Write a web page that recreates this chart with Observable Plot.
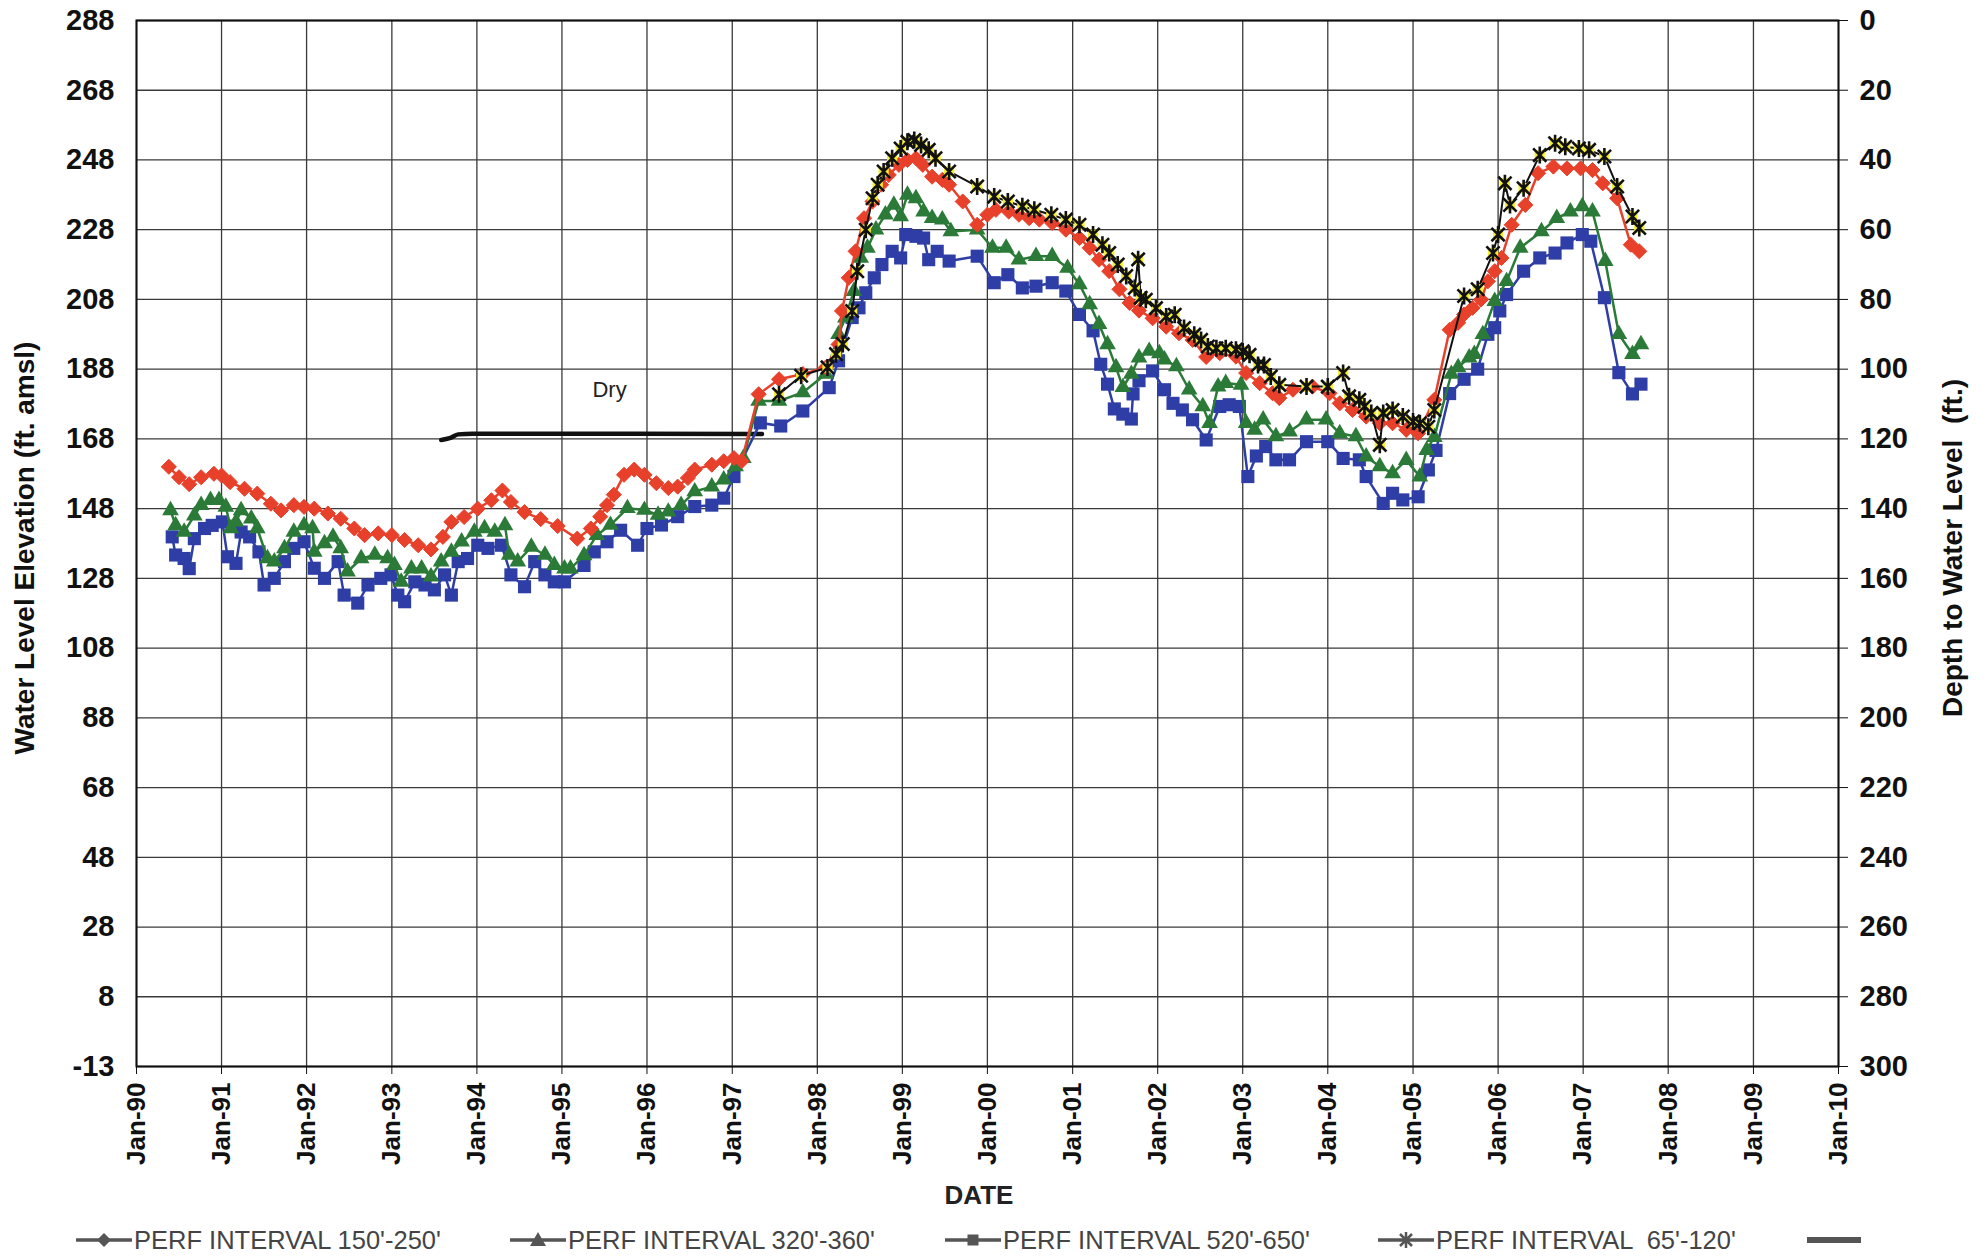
<!DOCTYPE html>
<html><head><meta charset="utf-8">
<script src="https://cdn.jsdelivr.net/npm/d3@7"></script>
<script src="https://cdn.jsdelivr.net/npm/@observablehq/plot@0.6"></script>
<style>
html,body{margin:0;padding:0;background:#fff;}
#wrap{position:relative;width:1988px;height:1256px;font-family:"Liberation Sans",Arial,sans-serif;overflow:hidden;}
#chart svg{display:block;}
#date{position:absolute;left:979px;top:1180px;transform:translateX(-50%);font-size:26px;font-weight:bold;color:#222;}
.ytitle{position:absolute;transform:translate(-50%,-50%) rotate(-90deg);white-space:pre;font-size:28px;font-weight:bold;color:#111;}
.leg{position:absolute;top:1225px;height:30px;display:flex;align-items:center;font-size:25.5px;color:#444;white-space:pre;}
.leg svg{display:block;margin-right:2px;}
</style></head><body>
<div id="wrap"><div id="chart"></div><div id="date">DATE</div>
<div class="ytitle" id="ltitle" style="left:25px;top:548px;"></div>
<div class="ytitle" id="rtitle" style="left:1953px;top:548px;"></div>
</div>
<script>
// ---------- data: [decimal year, water level elevation (ft amsl)] ----------
const perf150_250 = [
[1990.38,160],[1990.5,157],[1990.62,155],[1990.76,157],[1990.91,158],[1991.0,157.5],[1991.1,155.6],[1991.27,153.7],
[1991.42,152.3],[1991.58,149.4],[1991.7,147.5],[1991.85,149],[1991.97,148.5],[1992.09,148],[1992.25,146.6],[1992.4,145.1],
[1992.56,142.3],[1992.68,140.4],[1992.84,140.9],[1993.0,140.4],[1993.15,139],[1993.31,137.5],[1993.46,136.3],[1993.6,139.9],
[1993.7,144.2],[1993.85,145.6],[1994.01,148],[1994.17,150.4],[1994.3,153.2],[1994.4,149.9],[1994.56,147],[1994.75,145],
[1994.95,143],[1995.18,139.4],[1995.34,142.3],[1995.45,145.7],[1995.53,149],[1995.61,152],[1995.73,157.7],[1995.85,159.2],
[1995.97,157.7],[1996.11,155.3],[1996.25,153.9],[1996.36,154.3],[1996.48,156.8],[1996.56,159.2],[1996.76,160.6],[1996.9,161.6],
[1997.02,162.5],[1997.11,161.6],[1997.31,180.8],[1997.55,185.1],[1997.83,186.6],[1998.1,188.5],[1998.25,195.1],[1998.29,204.7],
[1998.37,214.2],[1998.45,221.8],[1998.55,231.3],[1998.65,236.1],[1998.75,240.9],[1998.84,243.7],[1998.96,246.6],[1999.06,248],
[1999.16,248.5],[1999.24,246.6],[1999.35,243.2],[1999.47,242.3],[1999.55,240.9],[1999.71,236.1],[1999.88,229.4],[2000.0,232.3],
[2000.1,233.7],[2000.25,233.2],[2000.37,232.3],[2000.49,231.3],[2000.61,230.9],[2000.76,229.9],[2000.92,228],[2001.08,225.6],
[2001.2,222.8],[2001.31,219.4],[2001.43,216.1],[2001.55,210.9],[2001.67,207],[2001.78,204.8],[2001.94,202.6],[2002.1,200.2],
[2002.25,198.3],[2002.41,196.4],[2002.57,191.5],[2002.73,192.6],[2002.92,191.6],[2003.04,186.9],[2003.2,184],[2003.35,181.1],
[2003.43,179.7],[2003.59,182.1],[2003.82,183],[2004.02,181.1],[2004.14,178.2],[2004.29,176.3],[2004.45,174.4],[2004.61,172.5],
[2004.76,172.5],[2004.92,170.6],[2005.06,169.6],[2005.25,179.2],[2005.43,199.3],[2005.53,201.3],[2005.6,203.7],[2005.7,205.6],
[2005.8,208],[2005.88,213.2],[2005.96,216.1],[2006.04,219.9],[2006.16,229.4],[2006.32,235.1],[2006.47,244.2],[2006.65,246.1],
[2006.81,245.6],[2006.97,245.6],[2007.11,245.1],[2007.23,241.3],[2007.4,237],[2007.56,223.7],[2007.66,221.8]
];
const perf320_360 = [
[1990.4,147.5],[1990.46,143.2],[1990.56,141.3],[1990.68,146],[1990.76,149],[1990.87,150.4],[1990.97,150.4],[1991.05,148.5],
[1991.11,142.3],[1991.17,144.2],[1991.23,147.5],[1991.35,145.1],[1991.42,142.3],[1991.54,133.7],[1991.62,132.8],[1991.74,136.6],
[1991.85,141.3],[1991.97,143.2],[1992.07,142.3],[1992.09,135.6],[1992.21,138],[1992.31,139.9],[1992.4,136.6],[1992.48,129.9],
[1992.64,133.7],[1992.8,134.7],[1992.95,133.7],[1993.03,131.8],[1993.11,127],[1993.23,130.8],[1993.35,130.8],[1993.46,128.5],
[1993.58,132.8],[1993.7,135.6],[1993.82,138.5],[1993.97,141.3],[1994.09,142.3],[1994.21,141.3],[1994.33,143.2],[1994.38,134.7],
[1994.48,132.8],[1994.64,137],[1994.8,134.7],[1994.91,131.8],[1995.03,130.8],[1995.1,130.8],[1995.26,134.6],[1995.41,140.4],
[1995.57,143.3],[1995.77,148.1],[1995.97,147.6],[1996.13,146.2],[1996.25,147.1],[1996.4,149],[1996.56,152.9],[1996.76,154.3],
[1996.9,156.3],[1997.04,160.1],[1997.13,162.5],[1997.31,178.9],[1997.55,178.9],[1997.83,181.3],[1998.1,186.6],[1998.25,198],
[1998.33,202.8],[1998.43,210.4],[1998.51,219.9],[1998.59,222.8],[1998.69,228],[1998.8,232.3],[1998.9,235.1],[1998.98,231.8],
[1999.06,238],[1999.16,237],[1999.25,233.2],[1999.35,231.3],[1999.47,230.9],[1999.57,227.5],[1999.88,228],[2000.06,222.8],
[2000.22,222.8],[2000.37,219.4],[2000.57,220.4],[2000.76,220.4],[2000.94,217],[2001.08,212.3],[2001.2,206.6],[2001.31,200.9],
[2001.41,195.1],[2001.51,188.5],[2001.59,182.8],[2001.69,186.6],[2001.78,191.3],[2001.9,193.2],[2002.02,192.5],[2002.08,190.7],
[2002.22,188.8],[2002.37,182.1],[2002.53,177.3],[2002.61,172.5],[2002.71,183],[2002.8,184],[2002.98,183.5],[2003.04,172.5],
[2003.14,170.6],[2003.24,173.5],[2003.39,168.7],[2003.55,170.1],[2003.75,173.5],[2003.98,173.5],[2004.14,169.6],[2004.33,168.7],
[2004.45,162.9],[2004.61,160.1],[2004.76,158.1],[2004.92,161.9],[2005.08,157.2],[2005.16,164.8],[2005.25,168.5],[2005.45,186.6],
[2005.53,188.5],[2005.66,191.3],[2005.72,192.3],[2005.82,198],[2005.96,207.5],[2006.1,213.2],[2006.26,222.8],[2006.51,227.5],
[2006.69,231.3],[2006.85,233.2],[2006.99,234.7],[2007.11,233.2],[2007.26,219],[2007.42,198],[2007.58,192.3],[2007.68,195.1]
];
const perf520_650 = [
[1990.42,139.9],[1990.46,134.7],[1990.56,133.7],[1990.62,130.8],[1990.68,139.4],[1990.8,142.3],[1990.89,143.2],[1991.01,144.2],
[1991.07,134.2],[1991.17,132.3],[1991.23,141.3],[1991.33,139.9],[1991.44,135.6],[1991.5,126.1],[1991.62,128],[1991.74,132.8],
[1991.85,136.6],[1991.97,138.5],[1992.09,130.9],[1992.21,128],[1992.37,132.8],[1992.44,123.2],[1992.6,120.9],[1992.72,126.1],
[1992.87,128],[1992.99,129],[1993.07,123.2],[1993.15,121.3],[1993.27,127],[1993.39,126.1],[1993.5,124.7],[1993.62,129],
[1993.7,123.2],[1993.78,132.8],[1993.89,133.7],[1994.01,137.5],[1994.13,136.6],[1994.29,137.5],[1994.4,129],[1994.56,125.6],
[1994.68,132.8],[1994.8,129],[1994.91,127],[1995.03,127],[1995.26,131.7],[1995.38,135.6],[1995.53,138.5],[1995.69,141.8],
[1995.89,137.5],[1996.0,142.3],[1996.17,143.3],[1996.36,145.7],[1996.56,148.6],[1996.76,149],[1996.9,151],[1997.02,157.2],
[1997.33,172.6],[1997.57,171.7],[1997.83,176],[1998.14,182.7],[1998.25,190.4],[1998.41,202.8],[1998.49,205.6],[1998.57,209.9],
[1998.67,214.2],[1998.76,218],[1998.88,221.8],[1998.98,219.9],[1999.04,226.6],[1999.16,226.1],[1999.25,225.6],[1999.31,219.4],
[1999.41,221.8],[1999.55,219],[1999.88,220.4],[2000.08,212.8],[2000.24,215.1],[2000.41,211.3],[2000.57,211.8],[2000.76,212.8],
[2000.92,210.4],[2001.08,203.7],[2001.24,199],[2001.33,189.4],[2001.41,183.7],[2001.49,176.6],[2001.59,175.1],[2001.69,173.7],
[2001.71,180.9],[2001.78,184.7],[2001.94,187.5],[2002.08,182.1],[2002.18,178.2],[2002.29,176.3],[2002.41,173.5],[2002.57,167.7],
[2002.73,177.3],[2002.84,177.8],[2002.96,177.3],[2003.06,157.2],[2003.16,163.1],[2003.27,165.8],[2003.39,162],[2003.55,162],
[2003.75,167.2],[2004.0,167.2],[2004.18,162.4],[2004.37,162],[2004.45,157.2],[2004.65,149.5],[2004.76,152.4],[2004.88,150.5],
[2005.06,151.4],[2005.18,159.1],[2005.27,164.7],[2005.43,181],[2005.6,185.1],[2005.76,188],[2005.88,198],[2005.96,199.9],
[2006.02,204.7],[2006.1,209.4],[2006.3,216.1],[2006.49,219.9],[2006.67,221.3],[2006.81,224.2],[2006.99,226.6],[2007.09,224.7],
[2007.25,208.5],[2007.42,187],[2007.58,180.9],[2007.68,183.7]
];
const perf65_120 = [
[1997.55,180.8],[1997.81,186.1],[1998.12,188.5],[1998.22,192.3],[1998.3,195.2],[1998.41,204.7],[1998.47,216.1],[1998.57,228],
[1998.65,237],[1998.71,240.9],[1998.78,244.7],[1998.88,248.5],[1998.98,251.3],[1999.06,253.2],[1999.14,253.7],[1999.22,252.3],
[1999.31,250.9],[1999.39,248.5],[1999.55,244.7],[1999.88,240.4],[2000.08,237.5],[2000.24,236.1],[2000.41,234.7],[2000.55,233.7],
[2000.75,232.3],[2000.92,230.9],[2001.08,229.4],[2001.24,226.6],[2001.35,223.7],[2001.43,221.3],[2001.53,218],[2001.63,214.7],
[2001.73,211.3],[2001.77,219.5],[2001.8,208.5],[2001.86,207.9],[2001.98,205.5],[2002.1,203.1],[2002.2,203.6],[2002.31,199.8],
[2002.43,197.9],[2002.51,196.4],[2002.59,194.5],[2002.69,194],[2002.8,194],[2002.92,193.6],[2003.0,193.1],[2003.08,192.1],
[2003.18,189.2],[2003.25,189.2],[2003.33,185.9],[2003.43,183.5],[2003.75,183],[2004.0,183],[2004.18,186.9],[2004.25,180.2],
[2004.37,179.2],[2004.43,177.3],[2004.51,175.4],[2004.61,166.3],[2004.65,175.4],[2004.76,176.3],[2004.88,174.4],[2005.0,173],
[2005.08,172.5],[2005.18,171.5],[2005.25,176.3],[2005.6,209],[2005.76,210.9],[2005.94,221.3],[2006.0,226.6],[2006.08,241.3],
[2006.14,235.1],[2006.3,239.9],[2006.49,249.4],[2006.67,252.8],[2006.79,251.8],[2006.95,251.3],[2007.07,250.9],[2007.25,249],
[2007.4,240.4],[2007.58,231.8],[2007.66,228.5]
];
const dryLine = [[1993.58,167.7],[1993.68,168.2],[1993.78,169.3],[1993.95,169.5],[1997.35,169.4]];
const annotations = [{year: 1995.56, elev: 182, label: "Dry"}];

// ---------- axes ----------
const groundElevation = 288;
const depthTicks = [0,20,40,60,80,100,120,140,160,180,200,220,240,260,280,300];
const leftTickLabels = ["288","268","248","228","208","188","168","148","128","108","88","68","48","28","8","-13"];
const yearTicks = [1990,1991,1992,1993,1994,1995,1996,1997,1998,1999,2000,2001,2002,2003,2004,2005,2006,2007,2008,2009,2010];
const leftTitle = "Water Level Elevation (ft. amsl)";
const rightTitle = "Depth to Water Level  (ft.)";
const legendLabels = ["PERF INTERVAL 150'-250'","PERF INTERVAL 320'-360'","PERF INTERVAL 520'-650'","PERF INTERVAL  65'-120'"];

// ---------- helpers ----------
const toDate = y => { const yr = Math.floor(y); const a = Date.UTC(yr,0,1), b = Date.UTC(yr+1,0,1); return new Date(a + (y-yr)*(b-a)); };
const rows = arr => arr.map(([y, e]) => ({date: toDate(y), elev: e}));
const excelStar = { draw(ctx, size) { const r = Math.sqrt(size/Math.PI); const d = r*0.78;
  ctx.moveTo(-d,-d); ctx.lineTo(d,d); ctx.moveTo(-d,d); ctx.lineTo(d,-d); ctx.moveTo(0,-r); ctx.lineTo(0,r); } };

const s150 = rows(perf150_250), s320 = rows(perf320_360), s520 = rows(perf520_650), s65 = rows(perf65_120);
const dry = rows(dryLine);
const ann = annotations.map(a => ({date: toDate(a.year), elev: a.elev, label: a.label}));
const yTicks = depthTicks.map(d => groundElevation - d);
const xTicks = yearTicks.map(y => toDate(y));
const red = "#e8412b", green = "#2b7a38", blue = "#2e3ea6", yellow = "#f4ee2c";
const grid = {stroke: "#3a3a3a", strokeOpacity: 1, strokeWidth: 1.3};

const chart = Plot.plot({
  width: 1988, height: 1180,
  marginLeft: 136, marginRight: 150, marginTop: 20, marginBottom: 114,
  style: {fontFamily: "'Liberation Sans', Arial, sans-serif", fontSize: "26px", fontWeight: "bold", color: "#111", background: "transparent", overflow: "visible"},
  x: {type: "utc", domain: [toDate(1990), toDate(2010)]},
  y: {domain: [groundElevation - 300, groundElevation]},
  marks: [
    Plot.gridX(xTicks, grid),
    Plot.gridY(yTicks, grid),
    Plot.axisY(yTicks, {anchor: "left", tickSize: 0, tickPadding: 22, fontSize: 29,
      tickFormat: v => leftTickLabels[Math.round((groundElevation - v) / 20)], label: null}),
    Plot.axisY(yTicks, {anchor: "right", tickSize: 9, tickPadding: 12, fontSize: 29,
      tickFormat: v => String(Math.round(groundElevation - v)), label: null}),
    Plot.axisX(xTicks, {anchor: "bottom", tickSize: 8, tickPadding: 8, tickRotate: -90, fontSize: 26,
      tickFormat: d3.utcFormat("%b-%y"), label: null}),
    Plot.line(dry, {x: "date", y: "elev", stroke: "#111", strokeWidth: 4.5, curve: "monotone-x"}),
    Plot.text(ann, {x: "date", y: "elev", text: "label", fontSize: 22, fontWeight: "normal", fill: "#222"}),
    Plot.line(s520, {x: "date", y: "elev", stroke: blue, strokeWidth: 2.5}),
    Plot.dot(s520, {x: "date", y: "elev", symbol: "square", r: 7.4, fill: blue}),
    Plot.line(s320, {x: "date", y: "elev", stroke: green, strokeWidth: 2.5}),
    Plot.dot(s320, {x: "date", y: "elev", symbol: "triangle", r: 6.2, fill: green}),
    Plot.line(s150, {x: "date", y: "elev", stroke: red, strokeWidth: 2.5}),
    Plot.dot(s150, {x: "date", y: "elev", symbol: "diamond2", r: 6.8, fill: red, stroke: red, strokeWidth: 1}),
    Plot.line(s65, {x: "date", y: "elev", stroke: "#111", strokeWidth: 2}),
    Plot.dot(s65, {x: "date", y: "elev", symbol: "square", r: 5.8, fill: yellow}),
    Plot.dot(s65, {x: "date", y: "elev", symbol: excelStar, r: 8.5, fill: "none", stroke: "#111", strokeWidth: 2.6}),
    Plot.frame({stroke: "#111", strokeWidth: 2})
  ]
});
document.getElementById("chart").appendChild(chart);
document.getElementById("ltitle").textContent = leftTitle;
document.getElementById("rtitle").textContent = rightTitle;

// ---------- legend ----------
const legendIcons = [
  '<polygon points="28,3 35,10 28,17 21,10" fill="#555"/>',
  '<polygon points="28,2 36,16 20,16" fill="#555"/>',
  '<rect x="22.5" y="4.5" width="11" height="11" fill="#555"/>',
  '<path d="M22,4L34,16M22,16L34,4M28,2L28,18" stroke="#555" stroke-width="2.5"/>'
];
const legendX = [76, 510, 945, 1378];
const wrap = document.getElementById("wrap");
legendLabels.forEach((lab, i) => {
  const div = document.createElement("div");
  div.className = "leg";
  div.style.left = legendX[i] + "px";
  div.innerHTML = `<svg width="56" height="20"><line x1="0" y1="10" x2="56" y2="10" stroke="#555" stroke-width="3.5"/>${legendIcons[i]}</svg><span>${lab}</span>`;
  wrap.appendChild(div);
});
const dryLeg = document.createElement("div");
dryLeg.className = "leg";
dryLeg.style.left = "1807px";
dryLeg.innerHTML = '<svg width="56" height="20"><line x1="0" y1="10" x2="54" y2="10" stroke="#555" stroke-width="6"/></svg>';
wrap.appendChild(dryLeg);
</script>
</body></html>
